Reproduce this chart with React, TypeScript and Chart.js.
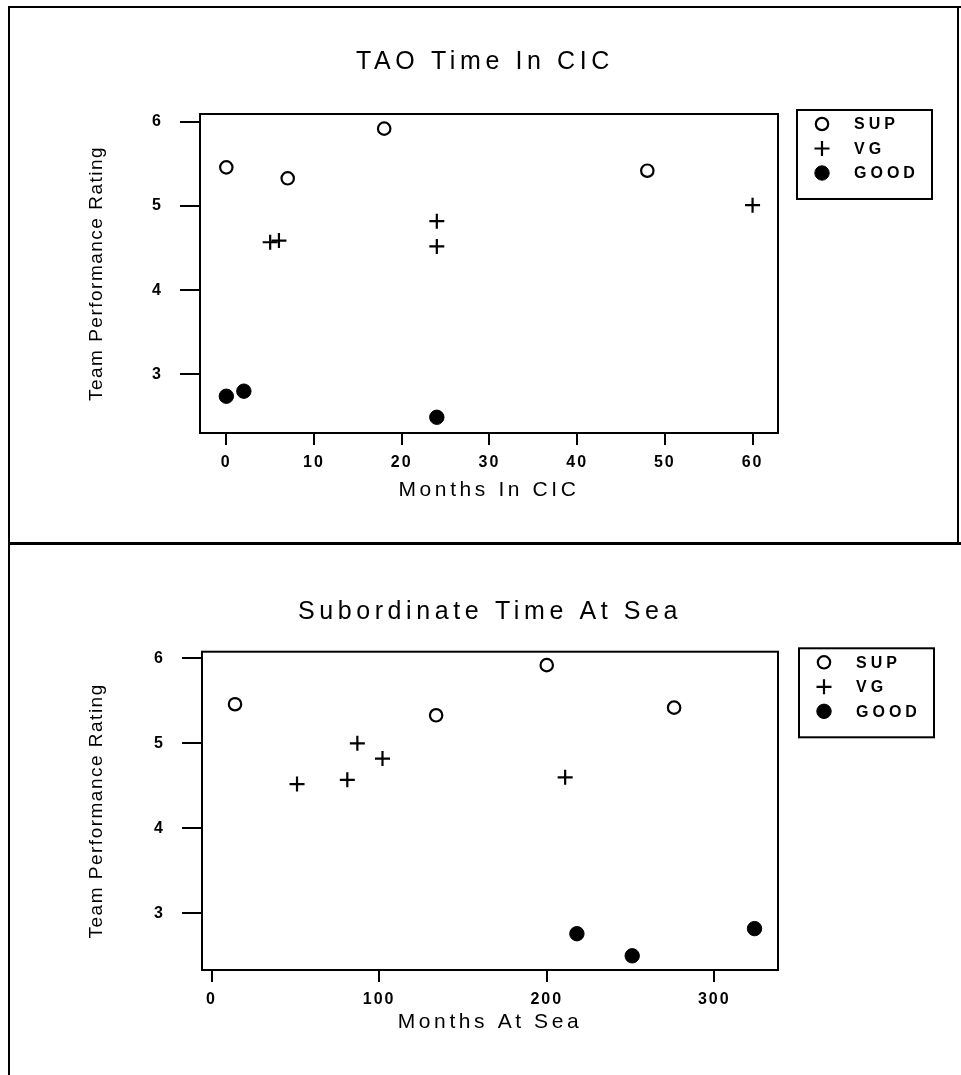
import React, { useEffect, useRef } from 'react';
import { Chart, registerables } from 'chart.js';

Chart.register(...registerables);

const FONT = "'Liberation Sans', Arial, Helvetica, sans-serif";

// ---------- shared ----------
const seriesLabels = ['SUP', 'VG', 'GOOD'];
const yAxisTitle = 'Team Performance Rating';
const yTickValues = [3, 4, 5, 6];

// ---------- chart 1 : TAO Time In CIC ----------
const cicTitle = 'TAO Time In CIC';
const cicXTitle = 'Months In CIC';
const cicXTicks = [0, 10, 20, 30, 40, 50, 60];
const cicSupX = [0, 7, 18, 48];
const cicSupY = [5.46, 5.33, 5.92, 5.42];
const cicVgX = [5, 6, 24, 24, 60];
const cicVgY = [4.57, 4.59, 4.82, 4.52, 5.01];
const cicGoodX = [0, 2, 24];
const cicGoodY = [2.74, 2.8, 2.49];

// ---------- chart 2 : Subordinate Time At Sea ----------
const seaTitle = 'Subordinate Time At Sea';
const seaXTitle = 'Months At Sea';
const seaXTicks = [0, 100, 200, 300];
const seaSupX = [14, 134, 200, 276];
const seaSupY = [5.46, 5.33, 5.92, 5.42];
const seaVgX = [51, 81, 87, 102, 211];
const seaVgY = [4.52, 4.57, 5.0, 4.82, 4.6];
const seaGoodX = [218, 251, 324];
const seaGoodY = [2.76, 2.5, 2.82];

// ---------- styles ----------
const seriesStyles: any[] = [
  { pointStyle: 'circle', pointRadius: 6.2, pointBorderWidth: 2.2, pointBackgroundColor: '#fff', pointBorderColor: '#000' },
  { pointStyle: 'cross', pointRadius: 7.5, pointBorderWidth: 2.2, pointBackgroundColor: '#000', pointBorderColor: '#000' },
  { pointStyle: 'circle', pointRadius: 7.2, pointBorderWidth: 1, pointBackgroundColor: '#000', pointBorderColor: '#000' },
];

function withSpacing(chart: any, obj: any, key: string, spacing: string) {
  if (!obj || typeof obj[key] !== 'function' || obj['__sp_' + key]) return;
  const orig = obj[key];
  obj[key] = function (...args: any[]) {
    const ctx = chart.ctx;
    const prev = ctx.letterSpacing;
    ctx.letterSpacing = spacing;
    try {
      return orig.apply(this, args);
    } finally {
      ctx.letterSpacing = prev;
    }
  };
  obj['__sp_' + key] = true;
}

function drawSymbol(ctx: CanvasRenderingContext2D, st: any, cx: number, cy: number) {
  ctx.save();
  ctx.lineWidth = st.pointBorderWidth;
  ctx.strokeStyle = st.pointBorderColor;
  ctx.fillStyle = st.pointBackgroundColor;
  if (st.pointStyle === 'cross') {
    const r = st.pointRadius;
    ctx.beginPath();
    ctx.moveTo(cx - r, cy);
    ctx.lineTo(cx + r, cy);
    ctx.moveTo(cx, cy - r);
    ctx.lineTo(cx, cy + r);
    ctx.stroke();
  } else {
    ctx.beginPath();
    ctx.arc(cx, cy, st.pointRadius, 0, Math.PI * 2);
    ctx.fill();
    ctx.stroke();
  }
  ctx.restore();
}

const decorPlugin = {
  id: 'decor',
  beforeDraw(chart: any, _args: any, o: any) {
    withSpacing(chart, chart.titleBlock, 'draw', o.titleSpacing);
    withSpacing(chart, chart.scales.x, 'drawLabels', o.tickSpacing);
    withSpacing(chart, chart.scales.y, 'drawLabels', o.tickSpacing);
    withSpacing(chart, chart.scales.x, 'drawTitle', o.xTitleSpacing);
    withSpacing(chart, chart.scales.y, 'drawTitle', o.yTitleSpacing);
  },
  beforeDatasetsDraw(chart: any) {
    const { ctx, chartArea: a } = chart;
    ctx.save();
    ctx.strokeStyle = '#000';
    ctx.lineWidth = 2;
    ctx.strokeRect(a.left, a.top, a.right - a.left, a.bottom - a.top);
    ctx.restore();
  },
  afterDraw(chart: any, _args: any, o: any) {
    const { ctx, chartArea: a } = chart;
    const left = a.right + o.legendDx;
    const top = a.top + o.legendDy;
    ctx.save();
    ctx.strokeStyle = '#000';
    ctx.lineWidth = 2;
    ctx.strokeRect(left, top, o.legendW, o.legendH);
    ctx.font = `bold 16px ${FONT}`;
    (ctx as any).letterSpacing = o.legendSpacing;
    ctx.textBaseline = 'middle';
    ctx.textAlign = 'left';
    ctx.fillStyle = '#000';
    chart.data.datasets.forEach((ds: any, i: number) => {
      const cy = top + 14 + i * 24.5;
      drawSymbol(ctx, seriesStyles[i], left + 25, cy);
      ctx.fillText(ds.label, left + 57, cy + 1);
    });
    ctx.restore();
  },
};

function toPoints(xs: number[], ys: number[]) {
  return xs.map((x, i) => ({ x, y: ys[i] }));
}

function makeConfig(p: any): any {
  const datasets = p.series.map((s: any, i: number) => ({
    label: seriesLabels[i],
    data: toPoints(s[0], s[1]),
    showLine: false,
    ...seriesStyles[i],
  }));
  return {
    type: 'scatter',
    data: { datasets },
    plugins: [decorPlugin],
    options: {
      responsive: false,
      animation: false,
      events: [],
      layout: { padding: { left: p.padLeft, right: 0, top: 0, bottom: 0 } },
      plugins: {
        legend: { display: false },
        tooltip: { enabled: false },
        title: {
          display: true,
          text: p.title,
          color: '#000',
          font: { family: FONT, size: 25, weight: 'normal' },
          padding: { top: p.titlePadTop, bottom: p.titlePadBottom },
        },
        decor: {
          titleSpacing: '4.6px',
          tickSpacing: '2px',
          xTitleSpacing: '3.6px',
          yTitleSpacing: '1.5px',
          legendSpacing: '4px',
          legendDx: p.legendDx,
          legendDy: p.legendDy,
          legendW: 135,
          legendH: 89,
        },
      },
      scales: {
        x: {
          type: 'linear',
          position: 'bottom',
          min: p.xMin,
          max: p.xMax,
          afterBuildTicks: (s: any) => {
            s.ticks = p.xTicks.map((v: number) => ({ value: v }));
          },
          afterFit: (s: any) => {
            s.height = p.xScaleHeight;
          },
          grid: { drawOnChartArea: false, drawTicks: true, tickLength: 12, color: '#000', lineWidth: 2 },
          border: { display: false },
          ticks: { color: '#000', font: { family: FONT, size: 16, weight: 'bold' }, padding: 8, maxRotation: 0, autoSkip: false },
          title: {
            display: true,
            text: p.xTitle,
            color: '#000',
            font: { family: FONT, size: 21 },
            padding: { top: 0, bottom: p.xTitlePadBottom },
          },
        },
        y: {
          type: 'linear',
          position: 'left',
          min: p.yMin,
          max: p.yMax,
          afterBuildTicks: (s: any) => {
            s.ticks = yTickValues.map((v) => ({ value: v }));
          },
          afterFit: (s: any) => {
            s.width = p.yScaleWidth;
          },
          grid: { drawOnChartArea: false, drawTicks: true, tickLength: 20, color: '#000', lineWidth: 2 },
          border: { display: false },
          ticks: { color: '#000', font: { family: FONT, size: 16, weight: 'bold' }, padding: 17 },
          title: {
            display: true,
            text: yAxisTitle,
            color: '#000',
            font: { family: FONT, size: 19 },
            padding: { top: p.yTitlePadTop, bottom: 0 },
          },
        },
        r2: {
          type: 'linear',
          position: 'right',
          display: true,
          afterFit: (s: any) => {
            s.width = 183;
          },
          grid: { display: false },
          ticks: { display: false },
          border: { display: false },
        },
      },
    },
  };
}

export default function App() {
  const c1 = useRef<HTMLCanvasElement>(null);
  const c2 = useRef<HTMLCanvasElement>(null);

  useEffect(() => {
    const ch1 = new Chart(
      c1.current as HTMLCanvasElement,
      makeConfig({
        title: cicTitle,
        xTitle: cicXTitle,
        xTicks: cicXTicks,
        series: [
          [cicSupX, cicSupY],
          [cicVgX, cicVgY],
          [cicGoodX, cicGoodY],
        ],
        xMin: -3,
        xMax: 62.9,
        yMin: 2.303,
        yMax: 6.094,
        padLeft: 9,
        yScaleWidth: 191,
        xScaleHeight: 107,
        titlePadTop: 47.5,
        titlePadBottom: 36.5,
        xTitlePadBottom: 37.4,
        yTitlePadTop: 76.6,
        legendDx: 19,
        legendDy: -4,
      })
    );
    const ch2 = new Chart(
      c2.current as HTMLCanvasElement,
      makeConfig({
        title: seaTitle,
        xTitle: seaXTitle,
        xTicks: seaXTicks,
        series: [
          [seaSupX, seaSupY],
          [seaVgX, seaVgY],
          [seaGoodX, seaGoodY],
        ],
        xMin: -5.7,
        xMax: 338,
        yMin: 2.333,
        yMax: 6.078,
        padLeft: 19,
        yScaleWidth: 183,
        xScaleHeight: 105,
        titlePadTop: 52,
        titlePadBottom: 24.7,
        xTitlePadBottom: 39.9,
        yTitlePadTop: 66.6,
        legendDx: 21,
        legendDy: -3.4,
      })
    );
    return () => {
      ch1.destroy();
      ch2.destroy();
    };
  }, []);

  const line = (style: React.CSSProperties) => (
    <div style={{ position: 'absolute', background: '#000', ...style }} />
  );

  return (
    <div
      style={{
        position: 'absolute',
        left: 0,
        top: 0,
        width: 961,
        height: 1075,
        background: '#fff',
        overflow: 'hidden',
      }}
    >
      <canvas ref={c1} width={961} height={540} style={{ position: 'absolute', left: 0, top: 0, display: 'block' }} />
      <canvas ref={c2} width={961} height={530} style={{ position: 'absolute', left: 0, top: 545, display: 'block' }} />
      {line({ left: 8, top: 6, width: 953, height: 2 })}
      {line({ left: 8, top: 6, width: 2, height: 1069 })}
      {line({ left: 957, top: 6, width: 2, height: 537 })}
      {line({ left: 8, top: 542, width: 953, height: 3 })}
    </div>
  );
}
